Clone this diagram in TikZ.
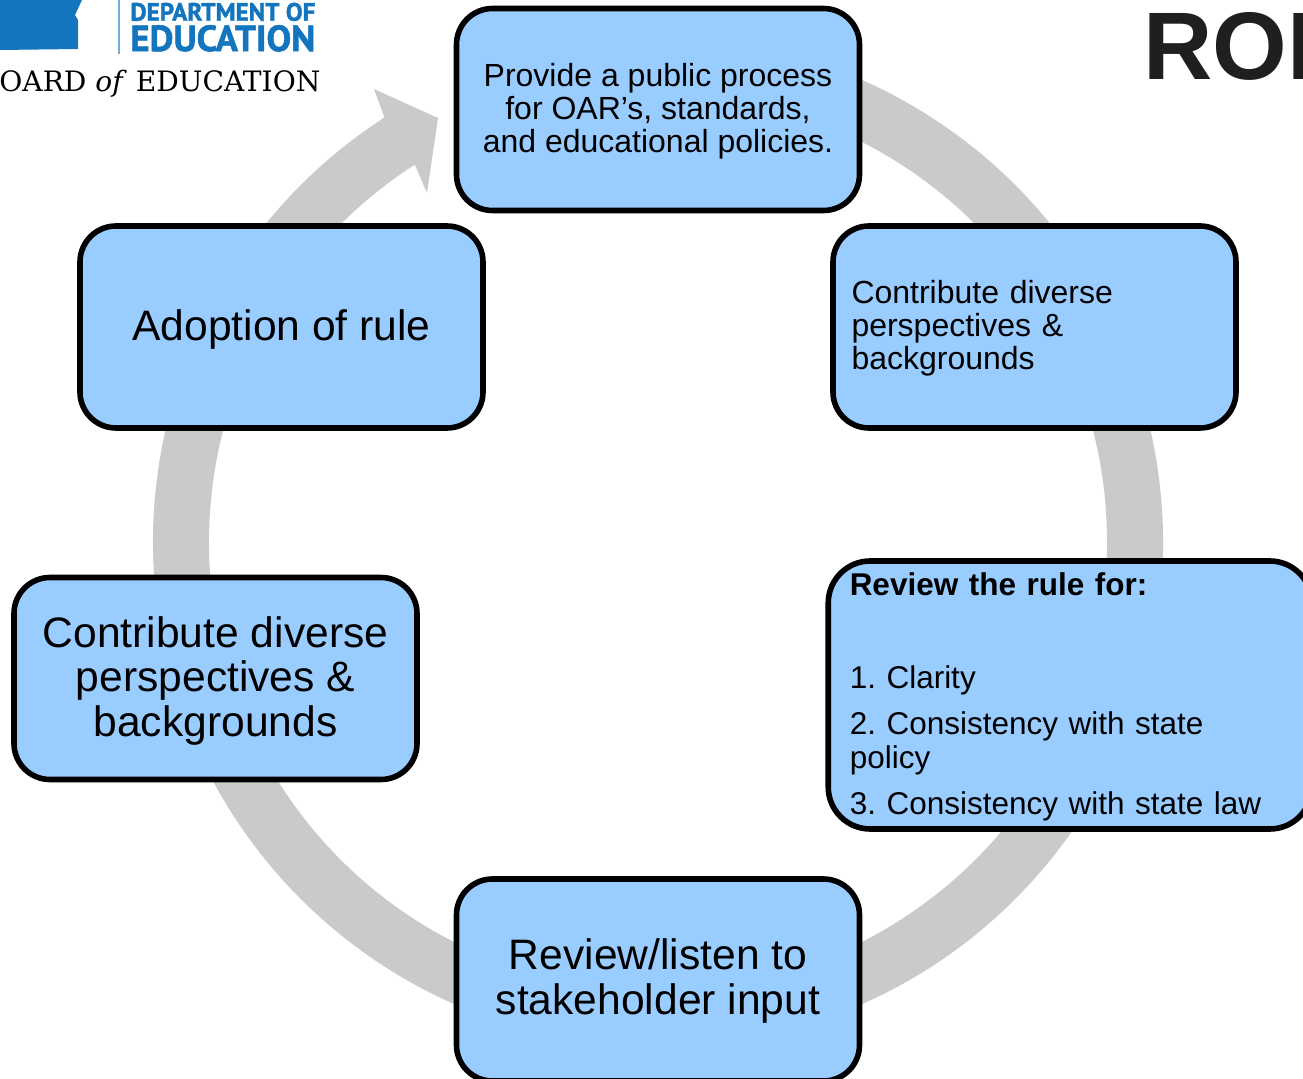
\documentclass[tikz,border=0pt]{standalone}
\usepackage{fontspec}
\setmainfont{Liberation Sans}
\newfontfamily\boardfont{DejaVu Serif}
\newfontfamily\deptfont[UprightFont={* Bold},FakeBold=1.5]{PT Sans}
\usetikzlibrary{positioning}
\definecolor{boxblue}{HTML}{99CCFF}
\definecolor{ringgray}{HTML}{CACACA}
\definecolor{logoblue}{HTML}{1275BD}
\definecolor{titledark}{HTML}{1F1F1F}
\newcommand{\smalllift}{\rule{0pt}{13.7pt}}
\newcommand{\biglift}{\rule{0pt}{17.7pt}}
\frenchspacing
\tikzset{
  rolebox/.style={draw=black,line width=2.8pt,fill=boxblue,rounded corners=18pt,
    minimum width=201.5pt,minimum height=101pt,inner sep=0pt},
  smalltext/.style={font=\fontsize{16}{16.5}\selectfont,align=center},
  bigtext/.style={font=\fontsize{21.3}{22.2}\selectfont,align=center},
  lefttext/.style={font=\fontsize{16}{16.5}\selectfont,align=left,text width=183pt,inner sep=9pt}
}
\begin{document}
\begin{tikzpicture}[x=0.5pt,y=0.5pt]
\useasboundingbox (0,0) rectangle (1303,1078);
\clip (0,0) rectangle (1303,1078);
\coordinate (hub) at (658,536);

% ring with arrow head
\fill[ringgray] ([shift={(100:252.5pt)}]hub) arc[start angle=100,end angle=-237.2,radius=252.5pt]
  -- (374,989) -- (438,960) -- (427,885)
  -- ([shift={(122.8:224.5pt)}]hub) arc[start angle=-237.2,end angle=100,radius=224.5pt] -- cycle;

% boxes
\node[rolebox,smalltext] (publicbox) at (658,968.5) {\smalllift Provide a public process\\for OAR’s, standards,\\and educational policies.};
\node[rolebox,lefttext] (diverseright) at (1034.5,751) {\rule{0pt}{13.2pt}Contribute diverse\\perspectives \&\\backgrounds};
\node[rolebox,bigtext] (adoptbox) at (281.5,751) {\biglift Adoption of rule};
\node[rolebox,bigtext] (diverseleft) at (215.5,399.5) {\biglift Contribute diverse\\perspectives \&\\backgrounds};
\node[rolebox,bigtext] (inputbox) at (658,98) {\rule{0pt}{16.5pt}Review/listen to\\stakeholder input};
\node[rolebox,rounded corners=21pt,font=\fontsize{15.75}{17}\selectfont,align=left,text width=220.25pt,inner xsep=10.75pt,inner ysep=0pt,minimum height=134pt] (reviewbox) at (1070,383)
  {\rule{0pt}{13.5pt}\textbf{Review the rule for:}\\[29.5pt]1. Clarity\\[6pt]2. Consistency with state\\policy\\[6pt]3. Consistency with state law};

% logo
\fill[logoblue] (0,1078) -- (82,1078) -- (75,1063) -- (78,1058) -- (78,1029) -- (0,1028) -- cycle;
\draw[logoblue!60,line width=1pt] (119,1078) -- (119,1024);
\node[anchor=south west,inner sep=0pt,text=logoblue] (deptname) at (130,1056.5) {\resizebox{92.5pt}{9pt}{\deptfont DEPARTMENT OF}};
\node[anchor=south west,inner sep=0pt,text=logoblue] (eduname) at (130,1026) {\resizebox{92.5pt}{13pt}{\deptfont EDUCATION}};
\node[anchor=base west,inner sep=0pt] (boardname) at (-1,986) {\resizebox{160.5pt}{!}{\boardfont OARD \textit{of} EDUCATION}};

% title
\node[anchor=base west,inner sep=0pt,text=titledark,font=\fontsize{48}{48}\selectfont\bfseries] (titletext) at (1143,998) {ROI};
\end{tikzpicture}
\end{document}
